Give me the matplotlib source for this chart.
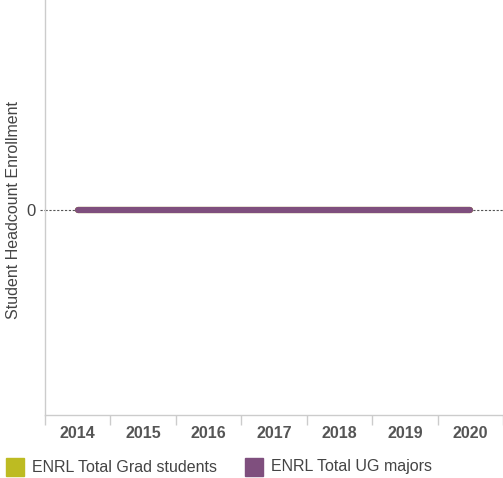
import matplotlib
matplotlib.use("Agg")
import matplotlib.pyplot as plt
from matplotlib.patches import Rectangle

years = ["2014", "2015", "2016", "2017", "2018", "2019", "2020"]
grad_students = [0, 0, 0, 0, 0, 0, 0]
ug_majors = [0, 0, 0, 0, 0, 0, 0]
series_names = ["ENRL Total Grad students", "ENRL Total UG majors"]

plt.rcParams['font.family'] = ['Liberation Sans', 'DejaVu Sans']

W, H = 503, 478
fig = plt.figure(figsize=(W / 100, H / 100), dpi=100)
ax = fig.add_axes([45/W, 63/H, 458/W, 415/H])

x = list(range(len(years)))
grad_c = "#bdbb22"
ug_c = "#7f4f7e"
ax.plot(x, grad_students, color=grad_c, lw=4.5, solid_capstyle="round", zorder=3)
ax.plot(x, ug_majors, color=ug_c, lw=4.5, solid_capstyle="round", zorder=4)

ax.axhline(0, color="#555555", lw=0.8, ls=(0, (2, 1.5)), zorder=2)
ax.plot([-0.58, -0.5], [0, 0], color="#555555", lw=0.8, ls=(0, (2, 1.5)), clip_on=False)

ax.set_xlim(-0.5, 6.5)
ax.set_ylim(-1.0, 1.02)
ax.set_yticks([0])
ax.set_yticklabels(["0"], fontsize=12, color="#444444")
ax.tick_params(axis="y", length=0, pad=7)

ax.set_xticks(x)
ax.set_xticklabels(years, fontsize=11.5, fontweight="bold", color="#555555")
ax.set_xticks([i - 0.5 for i in range(len(years) + 1)], minor=True)
ax.tick_params(axis="x", which="major", length=0, pad=8)
ax.tick_params(axis="x", which="minor", length=7, color="#cccccc", width=1)

for s in ["top", "right"]:
    ax.spines[s].set_visible(False)
for s in ["left", "bottom"]:
    ax.spines[s].set_color("#cccccc")
    ax.spines[s].set_linewidth(1)

fig.text(14/W, 1 - 210/H, "Student Headcount Enrollment", rotation=90,
         ha="center", va="center", fontsize=11.5, color="#444444")

# legend
colors = [grad_c, ug_c]
sq_x = [6, 245]
for name, c, sx in zip(series_names, colors, sq_x):
    fig.patches.append(Rectangle((sx/W, 1 - 476/H), 18/W, 18/H, color=c,
                                 transform=fig.transFigure, figure=fig))
    fig.text((sx + 26)/W, 1 - 467/H, name, ha="left", va="center",
             fontsize=11.5, color="#444444")

fig.savefig("out.png", dpi=100)
